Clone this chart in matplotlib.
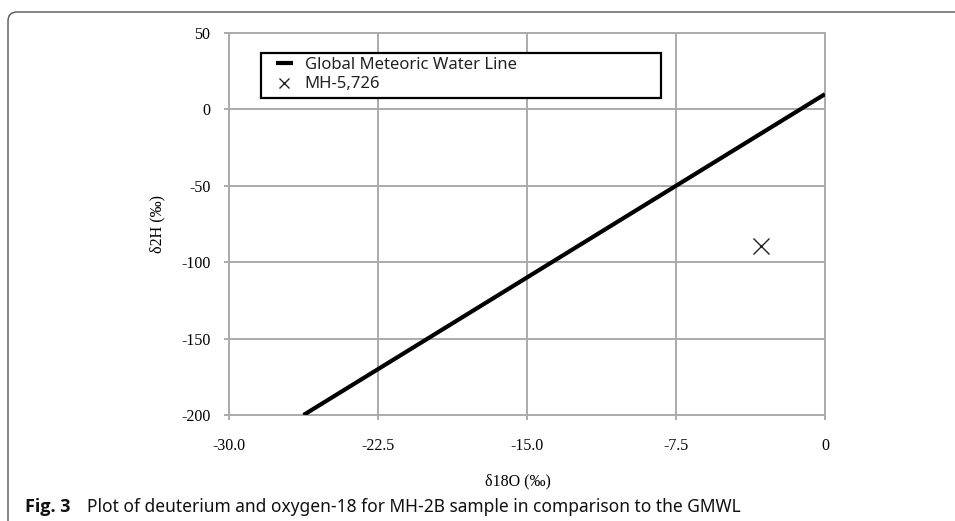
import matplotlib
matplotlib.use('Agg')
import matplotlib.pyplot as plt
from matplotlib.patches import FancyBboxPatch, Rectangle

# data
gmwl_x = [-26.25, 0.0]
gmwl_y = [-200.0, 10.0]
sample_x = [-3.2]
sample_y = [-89.5]
sample_name = "MH-5,726"
x_ticks = [-30.0, -22.5, -15.0, -7.5, 0.0]
x_tick_labels = ["-30.0", "-22.5", "-15.0", "-7.5", "0"]
y_ticks = [-200, -150, -100, -50, 0, 50]
y_tick_labels = ["-200", "-150", "-100", "-50", "0", "50"]

serif = ['Liberation Serif', 'DejaVu Serif']
sans = ['Noto Sans', 'DejaVu Sans']
grid_col = "#ababab"

fig = plt.figure(figsize=(9.55, 5.21), dpi=100)
ax = fig.add_axes([229 / 955, 1 - 415 / 521, 596 / 955, 382 / 521])

ax.plot(gmwl_x, gmwl_y, color="black", linewidth=3, solid_capstyle="butt",
        label="Global Meteoric Water Line", zorder=3)
ax.plot(sample_x, sample_y, linestyle="none", marker="x", markersize=12,
        markeredgewidth=1.0, color="#222222", label=sample_name, zorder=4)

ax.set_xlim(-30, 0)
ax.set_ylim(-200, 50)
ax.set_xticks(x_ticks)
ax.set_xticklabels(x_tick_labels)
ax.set_yticks(y_ticks)
ax.set_yticklabels(y_tick_labels)
ax.grid(True, color=grid_col, linewidth=1.4)
ax.set_axisbelow(True)
for s in ax.spines.values():
    s.set_color(grid_col)
    s.set_linewidth(1.4)
ax.tick_params(axis='both', colors=grid_col, length=3.5, width=1.4,
               labelcolor="black", labelsize=11.5)
ax.tick_params(axis='x', pad=13)
ax.tick_params(axis='y', pad=10)
for lab in ax.get_xticklabels() + ax.get_yticklabels():
    lab.set_family(serif)

ax.set_xlabel("δ18O (‰)", family=serif, fontsize=11.5)
ax.set_ylabel("δ2H (‰)", family=serif, fontsize=11.5)
ax.xaxis.set_label_coords(0.485, -0.152)
ax.yaxis.set_label_coords(-0.106, 0.5)

# legend box drawn separately (fixed size, like the original)
ax.add_patch(Rectangle((0.0537, 0.830), 0.671, 0.1178, transform=ax.transAxes,
                       facecolor="white", edgecolor="black", linewidth=1.6,
                       zorder=5))
leg = ax.legend(loc="center left", bbox_to_anchor=(0.0789, 0.891),
                prop={'family': sans, 'size': 12}, frameon=False,
                borderpad=0, labelspacing=0.22, handlelength=1.0,
                handletextpad=0.72, markerscale=0.65, borderaxespad=0)
leg.set_zorder(6)
for t in leg.get_texts():
    t.set_color("#222222")

# panel border (rounded corner at top-left, open to right and bottom)
border = FancyBboxPatch((0.08, -0.5), 10.0, (521 - 12) / 100 + 0.5,
                        boxstyle="round,pad=0,rounding_size=0.09",
                        transform=fig.dpi_scale_trans, facecolor="none",
                        edgecolor="#555555", linewidth=1.0)
fig.add_artist(border)

fig.text(25 / 955, 1 - 507 / 521, "Fig. 3", family=['Open Sans', 'DejaVu Sans'],
         fontsize=13, fontweight="bold", va="center", color="#111111")
fig.text(87 / 955, 1 - 507 / 521,
         "Plot of deuterium and oxygen-18 for MH-2B sample in comparison to the GMWL",
         family=sans, fontsize=12.5, va="center", color="#111111")

fig.savefig("out.png", dpi=100)
